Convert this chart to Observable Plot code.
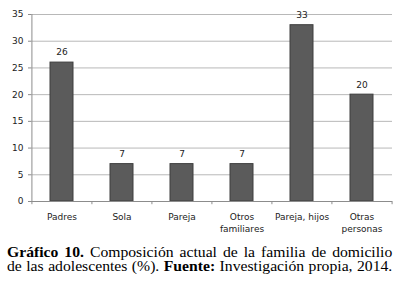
<!DOCTYPE html>
<html>
<head>
<meta charset="utf-8">
<script src="https://cdn.jsdelivr.net/npm/d3@7"></script>
<script src="https://cdn.jsdelivr.net/npm/@observablehq/plot@0.6"></script>
<style>
  html, body { margin: 0; padding: 0; background: #fff; }
  #chart { width: 400px; height: 237px; }
  #caption {
    font-family: "Liberation Serif", "Times New Roman", serif;
    font-size: 14px;
    line-height: 14px;
    color: #000;
    width: 344px;
    margin: 9px 0 0 7px;
    transform: scaleX(1.12);
    transform-origin: left top;
  }
  #caption div { text-align: justify; text-align-last: justify; white-space: nowrap; }
</style>
</head>
<body>
<div id="chart"></div>
<div id="caption">
  <div><b>Gráfico 10.</b> Composición actual de la familia de domicilio</div>
  <div>de las adolescentes (%). <b>Fuente:</b> Investigación propia, 2014.</div>
</div>
<script>
const categories = ["Padres", "Sola", "Pareja", "Otros\nfamiliares", "Pareja, hijos", "Otras\npersonas"];
const values = [26, 7, 7, 7, 33, 20];
const yTicks = [0, 5, 10, 15, 20, 25, 30, 35];

const data = categories.map((c, i) => ({category: c, value: values[i]}));
const W = 400, H = 237;
const mL = 31, mR = 8;
const step = (W - mL - mR) / categories.length;

const axisColor = "#8c8c8c";
const gridColor = "#b8b8b8";
const font = "'DejaVu Sans', Verdana, sans-serif";

const chart = Plot.plot({
  width: W,
  height: H,
  marginLeft: mL,
  marginRight: mR,
  marginTop: 14,
  marginBottom: 36,
  style: {fontFamily: font, fontSize: "9px", color: "#222", background: "#fff"},
  x: {domain: categories, paddingInner: 0.617, paddingOuter: 0.3085, label: null},
  y: {domain: [0, 35], ticks: yTicks, label: null},
  marks: [
    Plot.gridY(yTicks, {stroke: gridColor, strokeOpacity: 1, strokeWidth: 1}),
    Plot.axisY({ticks: yTicks, tickSize: 3, tickPadding: 5, stroke: axisColor, fill: "#222", fontSize: 9}),
    Plot.ruleX([0], {x: () => categories[0], y1: 0, y2: 35, dx: -step / 2, stroke: axisColor}),
    Plot.barY(data, {x: "category", y: "value", fill: "#5b5b5b", stroke: "#3f3f3f", strokeWidth: 1}),
    Plot.ruleY([0], {stroke: axisColor}),
    Plot.ruleX(categories, {x: d => d, y1: 0, y2: -0.6, dx: -step / 2, stroke: axisColor}),
    Plot.ruleX([categories[categories.length - 1]], {x: d => d, y1: 0, y2: -0.6, dx: step / 2, stroke: axisColor}),
    Plot.axisX({tickSize: 0, tickPadding: 10, fill: "#222", fontSize: 9, lineHeight: 1.35}),
    Plot.text(data, {x: "category", y: "value", text: d => String(d.value), dy: -10, fill: "#222", fontSize: 9})
  ]
});
document.getElementById("chart").appendChild(chart);
</script>
</body>
</html>
